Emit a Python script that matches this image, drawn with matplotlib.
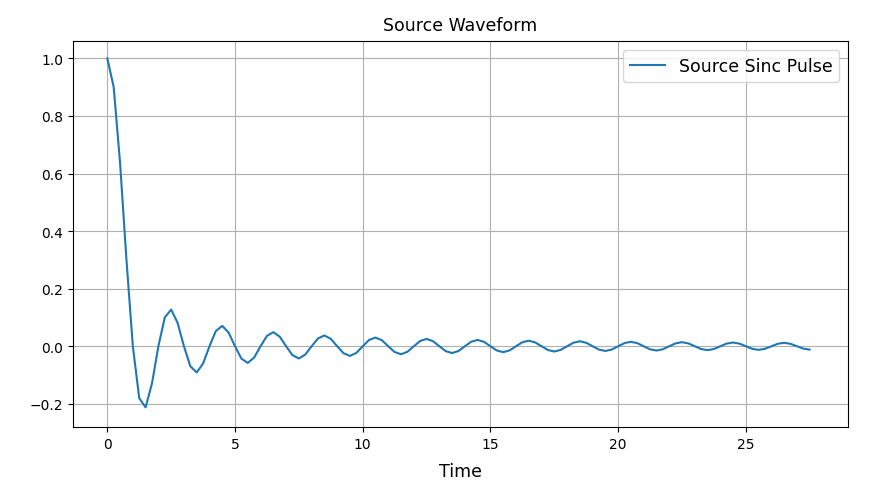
import numpy as np
import matplotlib
matplotlib.use("Agg")
import matplotlib.pyplot as plt

amplitude = [
    1.0, 0.9003, 0.6366, 0.3001, 0.0, -0.1801, -0.2122, -0.1286,
    0.0, 0.1000, 0.1273, 0.0818, 0.0, -0.0693, -0.0909, -0.0600,
    0.0, 0.0530, 0.0707, 0.0474, 0.0, -0.0429, -0.0579, -0.0391,
    0.0, 0.0360, 0.0490, 0.0333, 0.0, -0.0310, -0.0424, -0.0290,
    0.0, 0.0273, 0.0374, 0.0257, 0.0, -0.0243, -0.0335, -0.0231,
    0.0, 0.0220, 0.0303, 0.0209, 0.0, -0.0200, -0.0277, -0.0192,
    0.0, 0.0184, 0.0255, 0.0177, 0.0, -0.0170, -0.0236, -0.0164,
    0.0, 0.0158, 0.0220, 0.0153, 0.0, -0.0148, -0.0205, -0.0143,
    0.0, 0.0139, 0.0193, 0.0134, 0.0, -0.0130, -0.0182, -0.0127,
    0.0, 0.0123, 0.0172, 0.0120, 0.0, -0.0117, -0.0163, -0.0114,
    0.0, 0.0111, 0.0155, 0.0108, 0.0, -0.0106, -0.0148, -0.0103,
    0.0, 0.0101, 0.0141, 0.0099, 0.0, -0.0097, -0.0135, -0.0095,
    0.0, 0.0093, 0.0130, 0.0091, 0.0, -0.0089, -0.0125, -0.0087,
    0.0, 0.0086, 0.0120, 0.0084, 0.0, -0.0083, -0.0116,
]
time = np.arange(len(amplitude)) * 0.25

fig = plt.figure(figsize=(8.88, 4.89), dpi=100)
ax = fig.add_axes([0.082, 0.125, 0.873, 0.789])
ax.plot(time, amplitude, color="#1f77b4", label="Source Sinc Pulse")
ax.set_title("Source Waveform", fontsize=12.5, pad=8)
ax.set_xlabel("Time", fontsize=12.5, labelpad=8)
ax.set_ylabel("Amplitude", fontsize=12.5, labelpad=22)
ax.set_xlim(-1.35, 29.0)
ax.set_ylim(-0.28, 1.06)
ax.grid(True)
ax.legend(loc="upper right", fontsize=12.5)
fig.savefig("out.png", dpi=100)
